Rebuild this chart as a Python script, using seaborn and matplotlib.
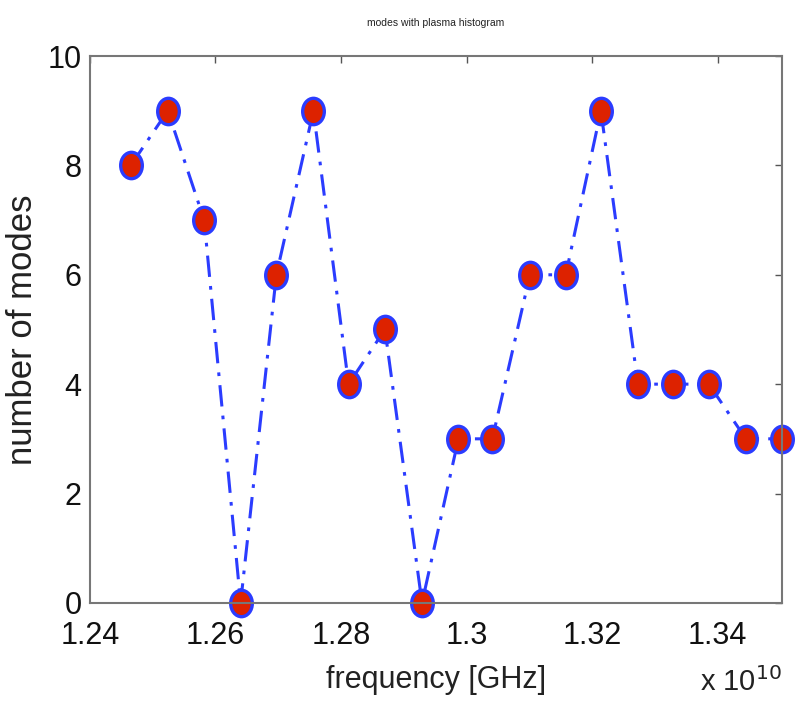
import matplotlib
matplotlib.use("Agg")
import matplotlib.pyplot as plt
import matplotlib.ticker as mticker
from matplotlib.path import Path
from matplotlib.transforms import Affine2D
import seaborn as sns
import pandas as pd

# frequency samples (Hz) and number of modes found at each
frequency_hz = [1.2465e10, 1.2524e10, 1.2582e10, 1.2640e10, 1.2697e10,
                1.2756e10, 1.2812e10, 1.2870e10, 1.2929e10, 1.2987e10,
                1.3041e10, 1.3101e10, 1.3158e10, 1.3214e10, 1.3273e10,
                1.3329e10, 1.3386e10, 1.3445e10, 1.3502e10]
n_modes = [8, 9, 7, 0, 6, 9, 4, 5, 0, 3, 3, 6, 6, 9, 4, 4, 4, 3, 3]

x_ticks = [1.24e10, 1.26e10, 1.28e10, 1.30e10, 1.32e10, 1.34e10]
y_ticks = [0, 2, 4, 6, 8, 10]

df = pd.DataFrame({"freq": frequency_hz, "modes": n_modes})

sns.set_style("white")
plt.rcParams["font.family"] = ["Liberation Sans", "DejaVu Sans"]

# slightly tall ellipse marker
oval = Path.unit_circle().transformed(Affine2D().scale(0.82, 1.0))

fig = plt.figure(figsize=(7.96, 7.01), dpi=100)
ax = fig.add_axes([0.113, 0.140, 0.869, 0.780])

sns.lineplot(data=df, x="freq", y="modes", ax=ax, color="#2b3cff",
             linewidth=2.2, marker=oval, markersize=19,
             markerfacecolor="#dd2200", markeredgecolor="#2b3cff",
             markeredgewidth=2.4, clip_on=False)
ax.lines[0].set_dashes([7, 3, 1.2, 3])

ax.set_xlim(1.24e10, 1.3502e10)
ax.set_ylim(0, 10)
ax.set_xticks(x_ticks)
ax.set_yticks(y_ticks)
ax.xaxis.set_major_formatter(mticker.FuncFormatter(lambda v, p: f"{v/1e10:g}"))

for s in ax.spines.values():
    s.set_color("#777777")
    s.set_linewidth(1.5)
ax.tick_params(direction="in", length=5, width=1, colors="#555555",
               top=True, right=True, labelsize=22, labelcolor="#111111")
ax.tick_params(axis="x", pad=13)
ax.tick_params(axis="y", pad=6)

ax.set_xlabel("frequency [GHz]", fontsize=22, color="#222222", labelpad=10)
ax.set_ylabel("number of modes", fontsize=25, color="#222222")
ax.yaxis.set_label_coords(-0.074, 0.5)
ax.set_title("modes with plasma histogram", fontsize=7.5, color="#222222",
             pad=22)

fig.text(0.879, 0.014, r"x 10$^{10}$", fontsize=21, color="#222222")

fig.savefig("out.png", dpi=100)
